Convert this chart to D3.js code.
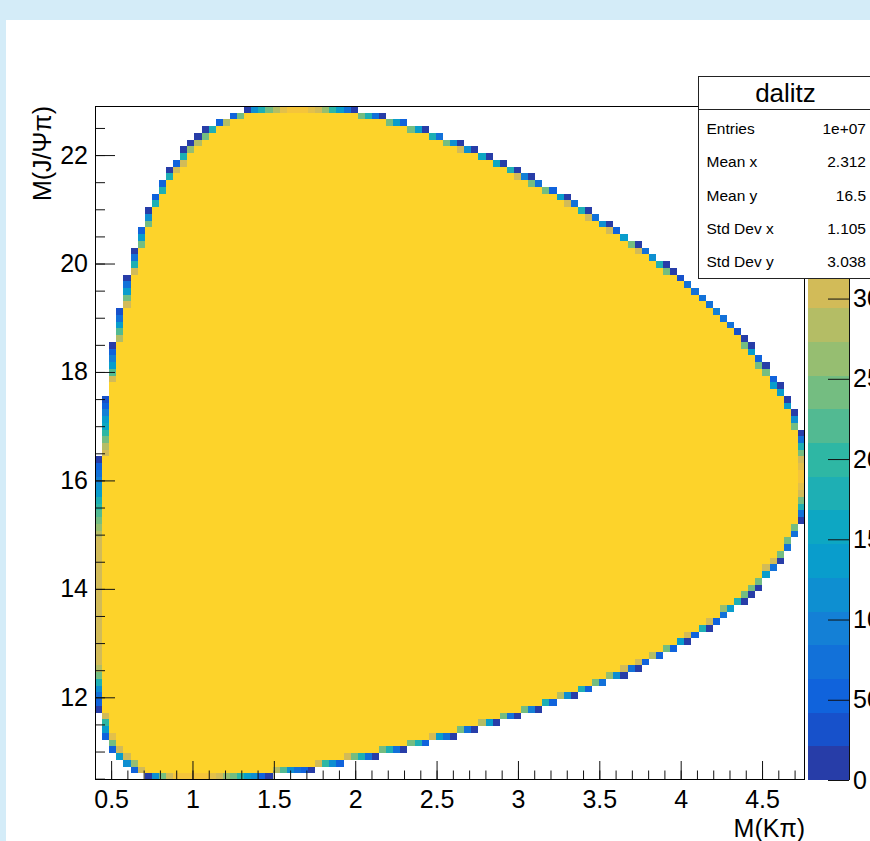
<!DOCTYPE html>
<html>
<head>
<meta charset="utf-8">
<script src="https://cdn.jsdelivr.net/npm/d3@7"></script>
<style>
  body { margin: 0; background: #fff; }
  svg { display: block; font-family: "Liberation Sans", Arial, Helvetica, sans-serif; }
</style>
</head>
<body>
<svg id="chart" width="870" height="841"></svg>
<script>
// histogram binning (M^2 ranges of the Dalitz plot)
const xRange = [0.401, 4.764];
const yRange = [10.475, 22.905];
const nx = 100, ny = 100;
const zMax = 420;
const nContours = 20;
const interiorCount = 365;

// first / last filled row of each column
const colLo = [10,6,4,3,2,1,1,0,0,0, 0,0,0,0,0,0,0,0,0,0, 0,0,0,0,0,1,1,1,1,1,
  1,2,2,2,2,3,3,3,3,3, 4,4,4,4,5,5,5,6,6,6, 6,7,7,7,8,8,8,9,9,9,
  10,10,10,11,11,12,12,12,13,13, 14,14,15,15,15,16,16,17,18,18,
  19,19,20,20,21,22,22,23,24,25, 26,26,27,28,30,31,32,34,36,38];
const colHi = [47,56,64,69,74,78,81,84,86,88, 90,91,93,94,95,96,96,97,97,98,
  98,99,99,99,99,99,99,99,99,99, 99,99,99,99,99,99,99,98,98,98,
  98,97,97,97,96,96,96,95,95,94, 94,94,93,93,92,92,91,91,90,90,
  89,89,88,87,87,86,86,85,84,84, 83,82,82,81,80,79,79,78,77,76,
  76,75,74,73,72,71,70,69,68,67, 66,65,64,62,61,59,58,56,54,51];

// contents of the partly filled border cells, bottom cell upward
const botEdge = [
  [10,50,75,115,180,240,285],[50,135,200,305],[50,240,325],[135,305],[115,305],
  [50,260],[305],[10],[115],[240], [305],[345],[345],[345],[345],
  [345],[325],[305],[260],[240], [200],[135],[115],[50],[10],
  [285],[220],[115],[75],[50], [10],[305],[200],[115],[50],
  [305],[240],[180],[75],[10], [240],[180],[75],[10],[240],
  [180],[50],[305],[135],[75], [10],[240],[75],[10],[285],
  [135],[10],[240],[75],[10], [240],[95],[10],[180],[50],
  [285],[115],[10],[180],[50], [240],[75],[260],[115],[10,305],
  [75],[10,305],[50],[285],[50], [240],[50],[135],[10,305],[50],
  [180],[10,305],[50],[75,260],[135], [180],[10,240],[10,240],[10,240],[135,305],
  [75,305],[10,240],[75,240],[75,240],[10,75,180,240,305,325,345]
];
// contents of the partly filled border cells, top cell downward
const topEdge = [
  [10,50,75,95,115,135,180,200,220,240,260,285,
   305,305,305,305,305,305,305,305,305,305,305,305,305,305,305,305,305,305,305],
  [30,50,95,135,155,200,240,285,305],[10,50,95,135,220,305],[30,75,135,220,285],
  [10,75,135,240,305],[10,75,180,305],[50,135,240],[10,115,240],[50,180],[50,180],
  [10,180],[50,305],[10,180,305],[10,260],[10,285], [10,240],[180],[50],[285],[50],
  [240],[10],[115],[180],[240], [285],[325],[345],[345],[345],
  [325],[305],[260],[200],[135], [75],[10],[240],[180],[75],
  [10],[240],[135],[50],[240], [135],[10],[180],[75],[240],
  [115],[10,305],[115],[10],[155], [10],[155],[10],[180],[10,305],
  [95],[10,240],[75],[240],[50], [135],[10,305],[75],[180],[10,305],
  [75],[115],[10,305],[50],[135], [240],[10,305],[75],[115],[180],
  [10,240],[10],[30],[75],[75], [75],[75],[95],[75],[75],
  [30],[10,240],[10,135],[50,240],[10,240], [50,135],[10,135],[10,135],[10,115,240],
  [10,75,180,240,305,325,345]
];

const xTicks = [0.5, 1, 1.5, 2, 2.5, 3, 3.5, 4, 4.5];
const xMinor = d3.range(5, 48).map(k => k / 10);
const yTicks = [12, 14, 16, 18, 20, 22];
const yMinor = d3.range(21, 46).map(k => k / 2);
const zTicks = [0, 50, 100, 150, 200, 250, 300];
const statTitle = 'dalitz';
const statNames = ['Entries', 'Mean x', 'Mean y', 'Std Dev x', 'Std Dev y'];
const statValues = ['1e+07', '2.312', '16.5', '1.105', '3.038'];

// kBird palette
const birdStops = ['#352a87','#0f5cdd','#1481d6','#06a4ca','#2eb7a4','#87bf77','#d1bb59','#fec832','#f9fb0e'];
const bird = d3.scaleLinear().domain(d3.range(9).map(k => k / 8)).range(birdStops);
const bandColor = b => bird(Math.floor((b + 0.99) * 255 / nContours) / 254);
const zColor = c => bandColor(Math.max(0, Math.min(nContours - 1, Math.floor(0.01 + c / zMax * nContours))));

const svg = d3.select('#chart');
svg.append('rect').attr('width', 870).attr('height', 841).attr('fill', '#d4ecf8');
svg.append('rect').attr('x', 6).attr('y', 20).attr('width', 864).attr('height', 821).attr('fill', '#fff');

const x = d3.scaleLinear().domain(xRange).range([95, 805]);
const y = d3.scaleLinear().domain(yRange).range([780, 106]);
const z = d3.scaleLinear().domain([0, zMax]).range([780, 106]);
const dx = (xRange[1] - xRange[0]) / nx;
const dy = (yRange[1] - yRange[0]) / ny;

const cells = [];
for (let j = 0; j < nx; j++) {
  for (let i = colLo[j]; i <= colHi[j]; i++) {
    const fromTop = colHi[j] - i, fromBot = i - colLo[j];
    let c = interiorCount;
    if (fromTop < topEdge[j].length) c = topEdge[j][fromTop];
    else if (fromBot < botEdge[j].length) c = botEdge[j][fromBot];
    cells.push({ i, j, c });
  }
}

svg.append('g')
  .attr('shape-rendering', 'crispEdges')
  .selectAll('rect')
  .data(cells)
  .join('rect')
  .attr('x', d => x(xRange[0] + d.j * dx))
  .attr('y', d => y(yRange[0] + (d.i + 1) * dy))
  .attr('width', d => x(xRange[0] + (d.j + 1) * dx) - x(xRange[0] + d.j * dx))
  .attr('height', d => y(yRange[0] + d.i * dy) - y(yRange[0] + (d.i + 1) * dy))
  .attr('fill', d => zColor(d.c));

// colour bar
svg.append('g')
  .attr('shape-rendering', 'crispEdges')
  .selectAll('rect')
  .data(d3.range(nContours))
  .join('rect')
  .attr('x', 808)
  .attr('width', 41)
  .attr('y', b => z((b + 1) * zMax / nContours))
  .attr('height', b => z(b * zMax / nContours) - z((b + 1) * zMax / nContours))
  .attr('fill', b => bandColor(b));

const styleAxis = g => {
  g.select('.domain').remove();
  g.selectAll('line').attr('stroke', '#111');
  g.selectAll('text').attr('fill', '#000').attr('font-size', 25)
    .attr('font-family', '"Liberation Sans", Arial, sans-serif');
};

// x axis
svg.append('g').attr('transform', 'translate(0,780)')
  .call(d3.axisBottom(x).tickValues(xMinor).tickFormat('').tickSizeInner(-9.5).tickSizeOuter(0))
  .call(styleAxis);
svg.append('g').attr('transform', 'translate(0,780)')
  .call(d3.axisBottom(x).tickValues(xTicks).tickFormat(d3.format('')).tickSizeInner(-19).tickSizeOuter(0).tickPadding(10))
  .call(styleAxis);

// y axis
svg.append('g').attr('transform', 'translate(95,0)')
  .call(d3.axisLeft(y).tickValues(yMinor).tickFormat('').tickSizeInner(-10).tickSizeOuter(0))
  .call(styleAxis);
svg.append('g').attr('transform', 'translate(95,0)')
  .call(d3.axisLeft(y).tickValues(yTicks).tickSizeInner(-20).tickSizeOuter(0).tickPadding(7))
  .call(styleAxis);

// z axis
svg.append('g').attr('transform', 'translate(849,0)')
  .call(d3.axisRight(z).tickValues(zTicks).tickSizeInner(-21).tickSizeOuter(0).tickPadding(4))
  .call(styleAxis);
svg.append('line').attr('x1', 849.5).attr('x2', 849.5).attr('y1', 106).attr('y2', 780)
  .attr('stroke', '#111');

// frame
svg.append('rect').attr('x', 95.5).attr('y', 106.5).attr('width', 709).attr('height', 673)
  .attr('fill', 'none').attr('stroke', '#000');

// axis titles
svg.append('text').attr('x', 805).attr('y', 837).attr('text-anchor', 'end')
  .attr('font-size', 25).text('M(Kπ)');
svg.append('text').attr('transform', 'translate(51,106) rotate(-90)').attr('text-anchor', 'end')
  .attr('font-size', 25).text('M(J/Ψπ)');

// stats box
const stat = svg.append('g');
stat.append('rect').attr('x', 698.5).attr('y', 76.5).attr('width', 175).attr('height', 202)
  .attr('fill', '#fff').attr('stroke', '#222');
stat.append('line').attr('x1', 698.5).attr('x2', 873).attr('y1', 109.5).attr('y2', 109.5)
  .attr('stroke', '#222');
stat.append('text').attr('x', 785.5).attr('y', 102).attr('text-anchor', 'middle')
  .attr('font-size', 26).text(statTitle);
statNames.forEach((name, k) => {
  const cy = 128.3 + k * 33.4;
  stat.append('text').attr('x', 706.5).attr('y', cy + 5.5).attr('font-size', 15.5).text(name);
  stat.append('text').attr('x', 866).attr('y', cy + 5.5).attr('text-anchor', 'end')
    .attr('font-size', 15.5).text(statValues[k]);
});
</script>
</body>
</html>
